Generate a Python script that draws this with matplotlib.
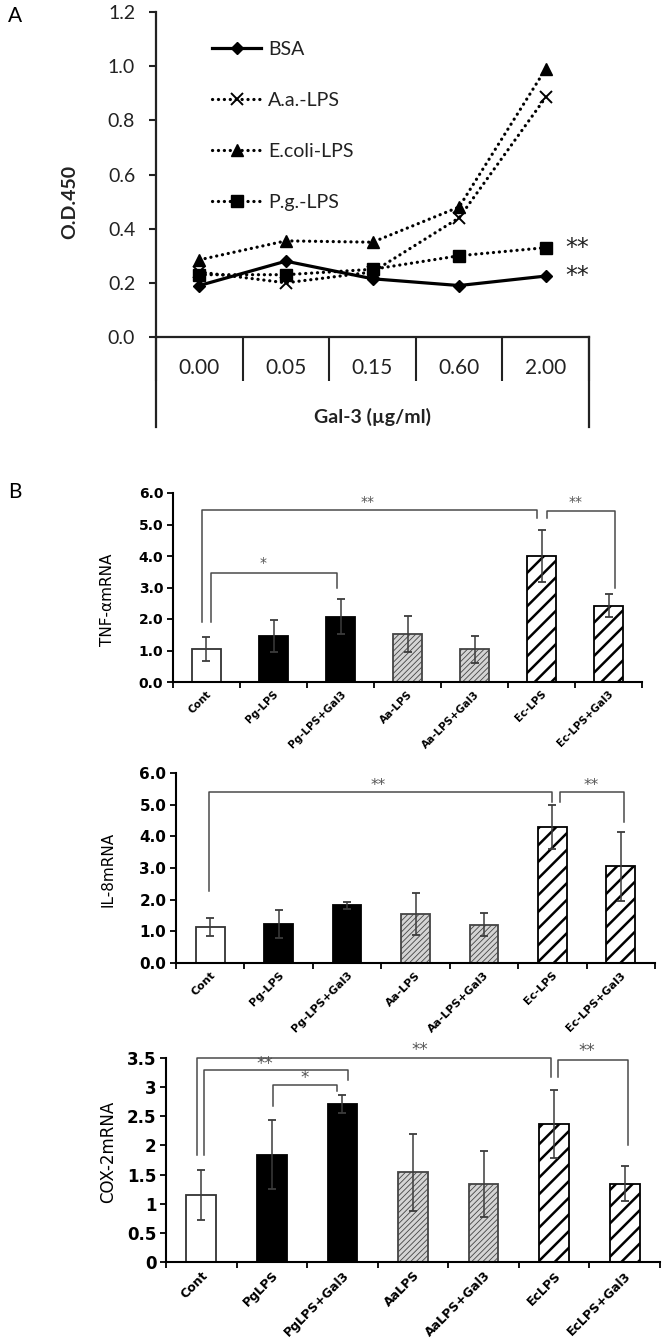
import numpy as np
import matplotlib
matplotlib.use("Agg")
import matplotlib.pyplot as plt

W, H = 666, 1341

# ---- panel A data (O.D.450 vs Gal-3 dose)
doses = ["0.00", "0.05", "0.15", "0.60", "2.00"]
bsa = [0.19, 0.28, 0.215, 0.19, 0.225]
aa_lps = [0.24, 0.20, 0.24, 0.44, 0.885]
ec_lps = [0.285, 0.355, 0.35, 0.48, 0.99]
pg_lps = [0.23, 0.23, 0.25, 0.30, 0.33]

# ---- panel B data (relative mRNA)
tnf_labels = ["Cont", "Pg-LPS", "Pg-LPS+Gal3", "Aa-LPS", "Aa-LPS+Gal3", "Ec-LPS", "Ec-LPS+Gal3"]
tnf_mean = [1.05, 1.46, 2.07, 1.53, 1.04, 4.01, 2.42]
tnf_err = [0.38, 0.52, 0.55, 0.58, 0.43, 0.82, 0.37]

il8_labels = ["Cont", "Pg-LPS", "Pg-LPS+Gal3", "Aa-LPS", "Aa-LPS+Gal3", "Ec-LPS", "Ec-LPS+Gal3"]
il8_mean = [1.14, 1.24, 1.82, 1.55, 1.21, 4.29, 3.05]
il8_err = [0.28, 0.44, 0.12, 0.66, 0.36, 0.70, 1.08]

cox_labels = ["Cont", "PgLPS", "PgLPS+Gal3", "AaLPS", "AaLPS+Gal3", "EcLPS", "EcLPS+Gal3"]
cox_mean = [1.15, 1.84, 2.71, 1.54, 1.34, 2.37, 1.34]
cox_err = [0.43, 0.59, 0.15, 0.66, 0.57, 0.58, 0.30]

# significance brackets: (x_left, x_right, y_top, y_left_end, y_right_end, star_x, star_y, text)
tnf_sig = [(-0.07, 4.93, 5.45, 1.9, 5.2, 2.4, 5.72, "**"),
           (5.08, 6.10, 5.42, 5.2, 3.0, 5.51, 5.72, "**"),
           (0.07, 1.95, 3.45, 1.9, 3.0, 0.84, 3.78, "*")]
il8_sig = [(-0.02, 5.00, 5.40, 2.27, 5.08, 2.45, 5.62, "**"),
           (5.11, 6.04, 5.40, 5.08, 4.45, 5.57, 5.62, "**")]
cox_sig = [(-0.06, 4.95, 3.50, 1.84, 3.17, 3.10, 3.64, "**"),
           (0.04, 2.08, 3.29, 1.84, 3.13, 0.90, 3.39, "**"),
           (1.02, 1.93, 3.03, 2.67, 2.93, 1.46, 3.16, "*"),
           (5.06, 6.05, 3.47, 3.17, 2.00, 5.47, 3.62, "**")]

fig = plt.figure(figsize=(W / 100, H / 100), dpi=100)
plt.rcParams['hatch.linewidth'] = 1.6


def px_axes(x0, y0, x1, y1):
    return fig.add_axes([x0 / W, 1 - y1 / H, (x1 - x0) / W, (y1 - y0) / H])


# ================= panel A =================
fa = "Lato"
ax = px_axes(156, 12, 589, 337)
xs = np.arange(len(doses)) + 0.5
dots = (0, (0.05, 1.8))
ax.plot(xs, bsa, '-', color='black', lw=2.3, marker='D', ms=6.5, label='BSA', zorder=5)
ax.plot(xs, aa_lps, color='black', lw=2.3, ls=dots, dash_capstyle='round',
        marker='x', ms=9, mew=1.4, label='A.a.-LPS', zorder=4)
ax.plot(xs, ec_lps, color='black', lw=2.3, ls=dots, dash_capstyle='round',
        marker='^', ms=8, label='E.coli-LPS', zorder=4)
ax.plot(xs, pg_lps, color='black', lw=2.3, ls=dots, dash_capstyle='round',
        marker='s', ms=8.5, label='P.g.-LPS', zorder=4)

ax.set_xlim(0, len(doses))
ax.set_ylim(0, 1.2)
yt = np.arange(0, 1.21, 0.2)
ax.set_yticks(yt, [f"{v:.1f}" for v in yt], fontfamily=fa, fontsize=14, color='#222')
ax.set_xticks(np.arange(len(doses) + 1), [])
ax.tick_params(axis='x', direction='out', length=32, width=1.5, color='#222')
ax.tick_params(axis='y', direction='out', length=5, width=1.5, color='#222', pad=10)
for s in ['top', 'right']:
    ax.spines[s].set_visible(False)
for s in ['left', 'bottom']:
    ax.spines[s].set_linewidth(1.6)
    ax.spines[s].set_color('#222')
tr = ax.get_xaxis_transform()
for xe in [0, len(doses)]:
    ax.plot([xe, xe], [0, -0.277], transform=tr, color='#222', lw=1.6, clip_on=False)
for xc, d in zip(xs, doses):
    ax.text(xc, -0.095, d, transform=tr, ha='center', va='center',
            fontfamily=fa, fontsize=15, color='#222')
ax.text(len(doses) / 2, -0.246, "Gal-3 (\u00b5g/ml)", transform=tr, ha='center', va='center',
        fontfamily=fa, fontsize=14, fontweight='bold', color='#222')
ax.text(-0.199, 0.415, "O.D.450", transform=ax.transAxes, rotation=90, ha='center', va='center',
        fontfamily=fa, fontsize=14, fontweight='bold', color='#222')
for yv in [pg_lps[-1], bsa[-1]]:
    ax.annotate("**", (xs[-1], yv), xytext=(14, 0), textcoords='offset points',
                ha='left', va='center', fontsize=17, color='#222', annotation_clip=False)
leg = ax.legend(loc='upper left', bbox_to_anchor=(0.108, 0.94), frameon=False,
                handlelength=2.5, labelspacing=1.75, borderpad=0, handletextpad=0.35,
                prop={'family': fa, 'size': 14})
for t in leg.get_texts():
    t.set_color('#222')

fig.text(8 / W, 1 - 16 / H, "A", fontfamily=fa, fontsize=15, va='center', ha='left')
fig.text(8 / W, 1 - 492 / H, "B", fontfamily=fa, fontsize=15, va='center', ha='left')


# ================= panel B =================
def style(i):
    if i == 0:
        return dict(color='white', edgecolor='#333333', hatch=None), None
    if i in (1, 2):
        return dict(color='black', edgecolor='black', hatch=None), None
    if i in (3, 4):
        return dict(color='#d4d4d4', edgecolor='#444444', hatch='//////'), 0.6
    return dict(color='white', edgecolor='black', hatch='//'), 1.8


def bar_panel(box, labels, means, errs, ymax, ystep, fmt, ylabel, ylab_y, sig,
              tick_fs, xlab_fs, ylab_fs, star_fs):
    a = px_axes(*box)
    x = np.arange(len(labels))
    for i in x:
        kw, hlw = style(i)
        b = a.bar(x[i], means[i], width=0.42, linewidth=1.3, zorder=2, **kw)
        if hlw is not None:
            for p in b:
                if hasattr(p, 'set_hatch_linewidth'):
                    p.set_hatch_linewidth(hlw)
    a.errorbar(x, means, yerr=errs, fmt='none', ecolor='#3c3c3c', elinewidth=1.1,
               capsize=3, capthick=1.3, zorder=3)
    a.set_xlim(-0.5, len(labels) - 0.5)
    a.set_ylim(0, ymax)
    yt = np.arange(0, ymax + 1e-9, ystep)
    a.set_yticks(yt, [fmt(v) for v in yt], fontweight='bold', fontsize=tick_fs)
    a.set_xticks(np.arange(len(labels) + 1) - 0.5, [])
    a.set_xticks(x, labels, minor=True, rotation=45, ha='right', rotation_mode='anchor',
                 fontweight='bold', fontsize=xlab_fs)
    a.tick_params(axis='x', which='major', direction='out', length=4, width=1.3)
    a.tick_params(axis='x', which='minor', length=0, pad=5)
    a.tick_params(axis='y', direction='out', length=4, width=1.3, pad=3)
    for s in ['top', 'right']:
        a.spines[s].set_visible(False)
    for s in ['left', 'bottom']:
        a.spines[s].set_linewidth(1.5)
    for x1, x2, ytop, yl, yr, sx, sy, txt in sig:
        a.plot([x1, x1, x2, x2], [yl, ytop, ytop, yr], color='#4a4a4a', lw=1.1,
               clip_on=False, zorder=4)
        a.text(sx, sy, txt, ha='center', va='center', fontsize=star_fs, color='#555555',
               clip_on=False)
    fig.text(108 / W, 1 - ylab_y / H, ylabel, rotation=90, ha='center', va='center',
             fontsize=ylab_fs)
    return a


bar_panel((173, 493, 642, 682), tnf_labels, tnf_mean, tnf_err, 6.0, 1.0,
          lambda v: f"{v:.1f}", "TNF-\u03b1mRNA", 600, tnf_sig, 10, 7.5, 11, 10)
bar_panel((176, 773, 655, 963), il8_labels, il8_mean, il8_err, 6.0, 1.0,
          lambda v: f"{v:.1f}", "IL-8mRNA", 869, il8_sig, 11, 8, 11, 11)
bar_panel((166, 1058, 660, 1262), cox_labels, cox_mean, cox_err, 3.5, 0.5,
          lambda v: f"{v:g}", "COX-2mRNA", 1152, cox_sig, 12, 9, 12, 12)

fig.savefig("out.png", dpi=100)
